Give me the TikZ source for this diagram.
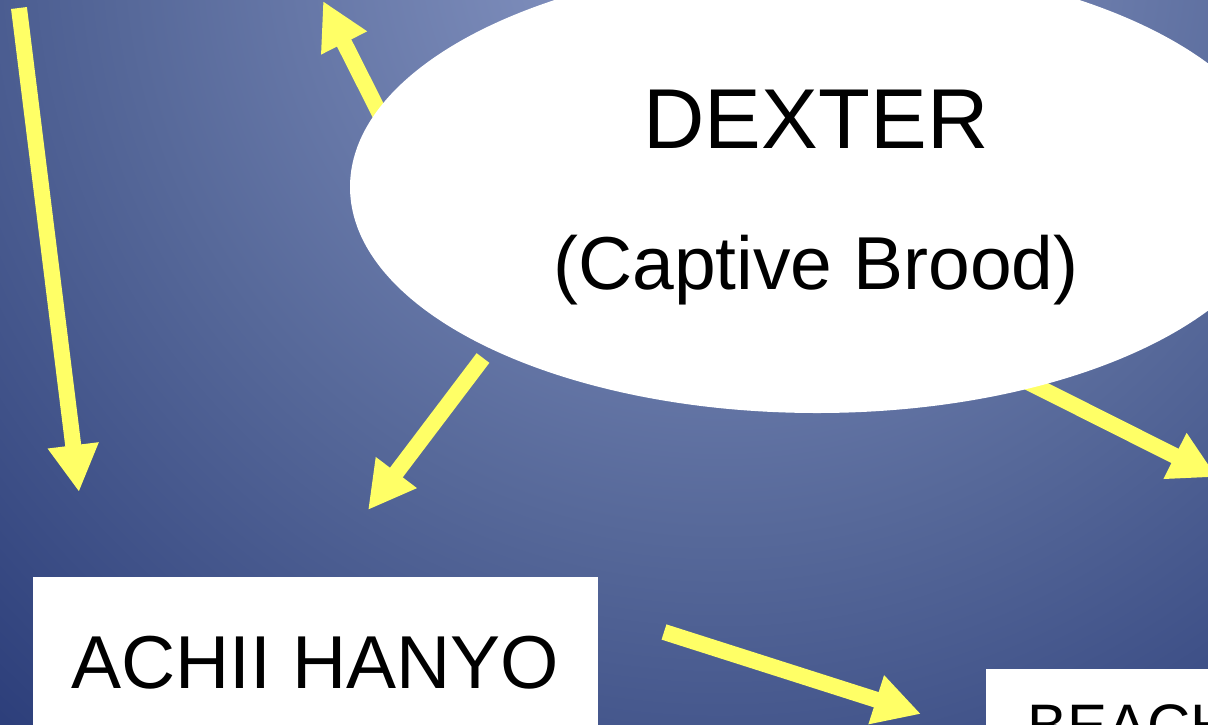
\documentclass[tikz,border=0pt]{standalone}
\usepackage{fontspec}
\setmainfont{Liberation Sans}
\usetikzlibrary{arrows.meta,shapes.geometric}
\definecolor{arrowyellow}{HTML}{FFFF66}
\definecolor{bgin}{HTML}{8C9BC8}
\definecolor{bgmid}{HTML}{566899}
\definecolor{bgout}{HTML}{293B78}
\pgfdeclareradialshading{bgshade}{\pgfpoint{0bp}{0bp}}{color(0bp)=(bgin); color(600bp)=(bgmid); color(1100bp)=(bgout)}
\tikzset{
  yarrow/.style={draw=arrowyellow, line width=16pt, -{Triangle[width=48pt,length=47pt]}},
  whitebox/.style={fill=white, draw=none, inner sep=0pt, anchor=north west},
  slidetext/.style={inner sep=0pt, text=black, anchor=base}
}
\begin{document}
\begin{tikzpicture}[x=1pt,y=-1pt]
\useasboundingbox (0,0) rectangle (1208,724);
% background
\begin{scope}
  \clip (0,0) rectangle (1208,724);
  \fill[bgout] (0,0) rectangle (1208,724);
  \node[inner sep=0pt, outer sep=0pt] (bg) at (720,-60) {\pgfuseshading{bgshade}};
\end{scope}
% coordinates for arrow ends
\coordinate (a1s) at (19,8);
\coordinate (a1e) at (79,492);
\coordinate (a2s) at (388,130);
\coordinate (a2e) at (323,1);
\coordinate (a3s) at (483,358);
\coordinate (a3e) at (368,510);
\coordinate (a4s) at (1004,370);
\coordinate (a4e) at (1217,477);
\coordinate (a5s) at (664,632);
\coordinate (a5e) at (921,714);
% arrows under the ellipse
\draw[yarrow] (a2s) -- (a2e);
\draw[yarrow] (a4s) -- (a4e);
% ellipse
\node[ellipse, fill=white, draw=none, minimum width=934pt, minimum height=452pt, inner sep=0pt] (dexter) at (817,187) {};
\node[slidetext, font=\fontsize{85}{100}\selectfont] (dextertitle) at (816,148) {DEXTER};
\node[slidetext, font=\fontsize{75}{90}\selectfont] (dextersub) at (816,289) {(Captive Brood)};
% other arrows
\draw[yarrow] (a1s) -- (a1e);
\draw[yarrow] (a3s) -- (a3e);
\draw[yarrow] (a5s) -- (a5e);
% boxes
\node[whitebox, minimum width=565pt, minimum height=200pt] (achiibox) at (33,577) {};
\node[slidetext, font=\fontsize{75}{90}\selectfont] (achii) at (315,688) {ACHII HANYO};
\node[whitebox, minimum width=300pt, minimum height=150pt] (beachbox) at (986,669) {};
\node[slidetext, anchor=base west, font=\fontsize{60}{72}\selectfont] (beach) at (1027,746) {BEACH};
\end{tikzpicture}
\end{document}
